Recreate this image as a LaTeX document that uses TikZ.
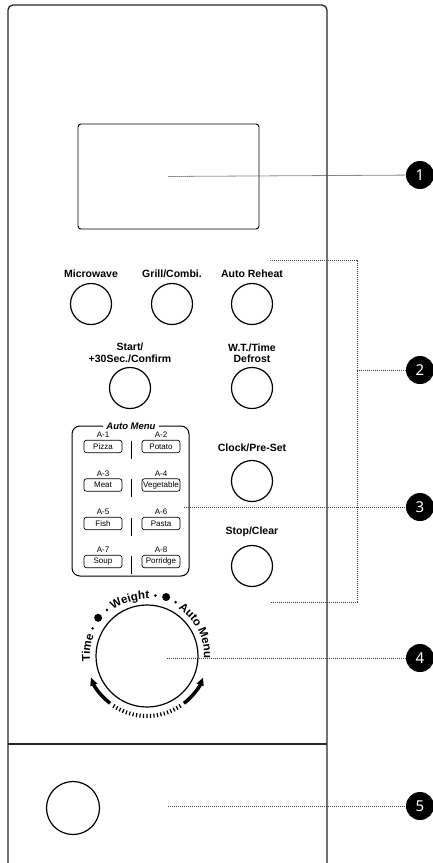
\documentclass[tikz,border=0pt]{standalone}
\usepackage{fontspec}
\setmainfont{Liberation Sans}
\newfontfamily\callfont{Noto Sans}
\usetikzlibrary{arrows.meta,decorations.text}
\tikzset{
  panelline/.style={line width=1.3pt, draw=black!85},
  btn/.style={circle, draw, line width=1.2pt, minimum size=41pt, inner sep=0pt},
  lbl/.style={font=\bfseries\fontsize{10.5}{11.5}\selectfont, align=center, inner sep=0pt},
  mbox/.style={draw, line width=0.7pt, rounded corners=2.5pt, minimum width=38pt, minimum height=12.5pt, inner sep=0pt, font=\fontsize{8}{8}\selectfont},
  mlbl/.style={font=\fontsize{8}{8}\selectfont, inner sep=0pt},
  callout/.style={circle, fill=black, minimum size=28pt, inner sep=0pt, text=white, font=\callfont\bfseries\fontsize{15}{15}\selectfont},
  leader/.style={draw=black!75, line width=0.8pt, dash pattern=on 1.2pt off 0.8pt},
  divider/.style={line width=0.8pt},
  dialtext/.style={decorate, decoration={text along path, text align=center, text={|\bfseries\fontsize{11.5}{11.5}\selectfont|#1}}}
}
\begin{document}
\begin{tikzpicture}[x=1pt,y=-1pt]
\useasboundingbox (0,0) rectangle (433,863);
% panel
\draw[panelline, rounded corners=5pt] (8,5) rectangle (327,872);
\draw[panelline] (8,744) -- (327,744);
% display
\node[draw, line width=0.9pt, rounded corners=3pt, minimum width=181pt, minimum height=105pt, inner sep=0pt] (disp) at (168.5,176.5) {};
% row 1
\node[lbl] (lmw) at (91,274) {Microwave};
\node[btn] (bmw) at (91,304) {};
\node[lbl] (lgr) at (172,274) {Grill/Combi.};
\node[btn] (bgr) at (172,304) {};
\node[lbl] (lar) at (252,274) {Auto Reheat};
\node[btn] (bar) at (252,304) {};
% row 2
\node[lbl] (lst) at (130,353) {Start/\\+30Sec./Confirm};
\node[btn] (bst) at (130,388) {};
\node[lbl] (lwt) at (252,353) {W.T./Time\\Defrost};
\node[btn] (bwt) at (252,388) {};
% clock / stop
\node[lbl] (lck) at (252,448) {Clock/Pre-Set};
\node[btn] (bck) at (252,481) {};
\node[lbl] (lsc) at (252,532) {Stop/Clear};
\node[btn] (bsc) at (252,566) {};
% auto menu box
\draw[line width=1pt, rounded corners=8pt] (72,426) rectangle (189,576);
\node[fill=white, inner xsep=3pt, inner ysep=1pt, font=\bfseries\itshape\fontsize{9.5}{10}\selectfont] (amt) at (131,426) {Auto Menu};
% menu items
\foreach \n/\lab/\x/\y in {1/Pizza/103/446.5, 2/Potato/161/446.5, 3/Meat/103/485, 4/Vegetable/161/485, 5/Fish/103/523.5, 6/Pasta/161/523.5, 7/Soup/103/561.5, 8/Porridge/161/561.5}{
  \node[mbox] (m\n) at (\x,\y) {\lab};
  \node[mlbl] (ml\n) at (\x,\y-11.5) {A-\n};
}
\foreach \y in {446.5,485,523.5,561.5}{
  \draw[divider] (131.5,\y-6) -- (131.5,\y+12);
}
% dial
\node[circle, draw, line width=1.2pt, minimum size=102pt, inner sep=0pt] (dial) at (147,656) {};
\begin{scope}[shift={(147,656)}, y=1pt]
  \path[dialtext=Time] (202:57) arc[start angle=202, end angle=142, radius=57];
  \path[dialtext=Weight] (137:57) arc[start angle=137, end angle=77, radius=57];
  \path[dialtext=Auto Menu] (62:57) arc[start angle=62, end angle=-8, radius=57];
  \fill (153:61) circle[radius=1.4];
  \fill (142:62) circle[radius=4];
  \fill (131:61) circle[radius=1.4];
  \fill (82:61) circle[radius=1.4];
  \fill (72:62) circle[radius=4];
  \fill (62:61) circle[radius=1.4];
  \draw[line width=3.5pt, -{Triangle[length=8pt,width=7pt]}] (232:60) arc[start angle=232, end angle=201, radius=60];
  \draw[line width=3.5pt, -{Triangle[length=8pt,width=7pt]}] (308:60) arc[start angle=308, end angle=339, radius=60];
  \draw[line width=4pt, dash pattern=on 1.2pt off 2.3pt] (236:60) arc[start angle=236, end angle=304, radius=60];
\end{scope}
% bottom button
\node[circle, draw, line width=1.2pt, minimum size=53pt, inner sep=0pt] (bpow) at (73,808) {};
% callouts
\node[callout] (c1) at (420,175) {1};
\node[callout] (c2) at (420,370) {2};
\node[callout] (c3) at (420,507) {3};
\node[callout] (c4) at (420,658) {4};
\node[callout] (c5) at (420,806) {5};
\coordinate (s1) at (disp.center);
\coordinate (s3) at (184,507);
\coordinate (s4) at (167,658);
\coordinate (s5) at (168,806);
\coordinate (bt) at (270,260);
\coordinate (bb) at (270,602);
\coordinate (bm) at (357,370);
\draw[leader] (s1) -- (c1);
\draw[leader] (bt) -| (bm) |- (bb);
\draw[leader] (bm) -- (c2);
\draw[leader] (s3) -- (c3);
\draw[leader] (s4) -- (c4);
\draw[leader] (s5) -- (c5);
\end{tikzpicture}
\end{document}
